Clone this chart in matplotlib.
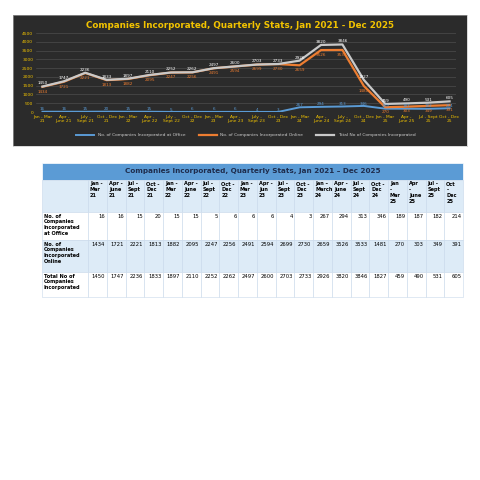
import matplotlib
matplotlib.use("Agg")
import matplotlib.pyplot as plt
from matplotlib.patches import Rectangle

TITLE = "Companies Incorporated, Quarterly Stats, Jan 2021 - Dec 2025"
chart_quarters = [
    "Jan - Mar\n21", "Apr -\nJune 21", "July -\nSept 21", "Oct - Dec\n21",
    "Jan - Mar\n22", "Apr -\nJune 22", "July -\nSept 22", "Oct - Dec\n22",
    "Jan - Mar\n23", "Apr -\nJune 23", "July -\nSept 23", "Oct - Dec\n23",
    "Jan - Mar\n24", "Apr -\nJune 24", "July -\nSept 24", "Oct - Dec\n24",
    "Jan - Mar\n25", "Apr -\nJune 25", "Jul - Sept\n25", "Oct - Dec\n25",
]
table_quarters = [
    "Jan -\nMar\n21", "Apr -\nJune\n21", "Jul -\nSept\n21", "Oct -\nDec\n21",
    "Jan -\nMar\n22", "Apr -\nJune\n22", "Jul -\nSept\n22", "Oct -\nDec\n22",
    "Jan -\nMar\n23", "Apr -\nJun\n23", "Jul -\nSept\n23", "Oct -\nDec\n23",
    "Jan \u2013\nMarch\n24", "Apr -\nJune\n24", "Jul -\nSept\n24", "Oct -\nDec\n24",
    "Jan\n-\nMar\n25", "Apr\n-\nJune\n25", "Jul -\nSept\n25", "Oct\n-\nDec\n25",
]
office = [16, 16, 15, 20, 15, 15, 5, 6, 6, 6, 4, 3, 267, 294, 313, 346, 189, 187, 182, 214]
online = [1434, 1721, 2221, 1813, 1882, 2095, 2247, 2256, 2491, 2594, 2699, 2730,
          2659, 3526, 3533, 1481, 270, 303, 349, 391]
total = [1450, 1747, 2236, 1833, 1897, 2110, 2252, 2262, 2497, 2600, 2703, 2733,
         2926, 3820, 3846, 1827, 459, 490, 531, 605]
row_labels = ["No. of\nCompanies\nIncorporated\nat Office",
              "No. of\nCompanies\nIncorporated\nOnline",
              "Total No of\nCompanies\nIncorporated"]

fig = plt.figure(figsize=(4.8, 4.8), dpi=100)
fig.patch.set_facecolor("white")

# ---- dark chart panel ----
bg = fig.add_axes([13 / 480, 1 - 146 / 480, 454 / 480, 131 / 480])
bg.set_facecolor("#2b2b2b")
bg.set_xticks([]); bg.set_yticks([])
for s in bg.spines.values():
    s.set_color("#bbbbbb"); s.set_linewidth(0.4)
bg.text(0.5, 0.92, TITLE, transform=bg.transAxes, ha="center", va="center",
        color="#f2c300", fontsize=6.3, fontweight="bold")

ax = fig.add_axes([36 / 480, 1 - 112 / 480, 420 / 480, 79 / 480])
ax.patch.set_alpha(0)
x = list(range(len(total)))
ax.plot(x, office, color="#5b9bd5", lw=1.4)
ax.plot(x, online, color="#ed7d31", lw=1.6)
ax.plot(x, total, color="#c9c9c9", lw=1.6)
for i in x:
    ax.text(i, total[i] + 120, str(total[i]), color="white", fontsize=3, ha="center")
    ax.text(i, online[i] - 330, str(online[i]), color="#ed7d31", fontsize=3, ha="center")
    ax.text(i, office[i] + 80, str(office[i]), color="#5b9bd5", fontsize=3, ha="center")
ax.set_ylim(0, 4500)
ax.set_xlim(-0.3, len(x) - 0.7)
ax.set_yticks(range(0, 4501, 500))
ax.set_xticks(x)
ax.set_xticklabels(chart_quarters)
ax.tick_params(colors="#f2c300", labelsize=3.2, length=0, pad=2)
ax.grid(axis="y", color="#555555", lw=0.4)
for s in ax.spines.values():
    s.set_visible(False)
leg_labels = ["No. of Companies Incorporated at Office",
              "No. of Companies Incorporated Online",
              "Total No of Companies Incorporated"]
leg = ax.legend(ax.lines, leg_labels, loc="upper center", bbox_to_anchor=(0.5, -0.22),
                ncol=3, frameon=False, fontsize=3.2, handlelength=4, columnspacing=3)
for t in leg.get_texts():
    t.set_color("#cccccc")

# ---- table ----
tb = fig.add_axes([0, 0, 1, 1])
tb.set_xlim(0, 480); tb.set_ylim(480, 0)
tb.axis("off")
x0, x1, c0 = 42, 463, 88
cw = (x1 - c0) / len(total)
rows_y = [(180, 212), (212, 240), (240, 272), (272, 297)]
fills = ["#ddebf7", "white", "#ddebf7", "white"]
tb.add_patch(Rectangle((x0, 163), x1 - x0, 17, facecolor="#5b9bd5", edgecolor="white", lw=0.5))
tb.text((x0 + x1) / 2, 171.5, "Companies Incorporated, Quarterly Stats, Jan 2021 \u2013 Dec 2025",
        ha="center", va="center", fontsize=5.2, fontweight="bold", color="#1f2d4d")
for r, ((ya, yb), fc) in enumerate(zip(rows_y, fills)):
    tb.add_patch(Rectangle((x0, ya), c0 - x0, yb - ya, facecolor=fc, edgecolor="#c8d8ea", lw=0.4))
    if r > 0:
        tb.text(x0 + 2, ya + 1.5, row_labels[r - 1], ha="left", va="top", fontsize=3.6,
                fontweight="bold", linespacing=1.2)
    vals = [None, office, online, total][r]
    for j in range(len(total)):
        cx = c0 + j * cw
        tb.add_patch(Rectangle((cx, ya), cw, yb - ya, facecolor=fc, edgecolor="#c8d8ea", lw=0.4))
        if r == 0:
            tb.text(cx + 2, ya + 1.5, table_quarters[j], ha="left", va="top", fontsize=3.6,
                    fontweight="bold", linespacing=1.2)
        else:
            tb.text(cx + cw - 1.5, ya + 1.5, str(vals[j]), ha="right", va="top", fontsize=3.8)

fig.savefig("out.png", dpi=100)
